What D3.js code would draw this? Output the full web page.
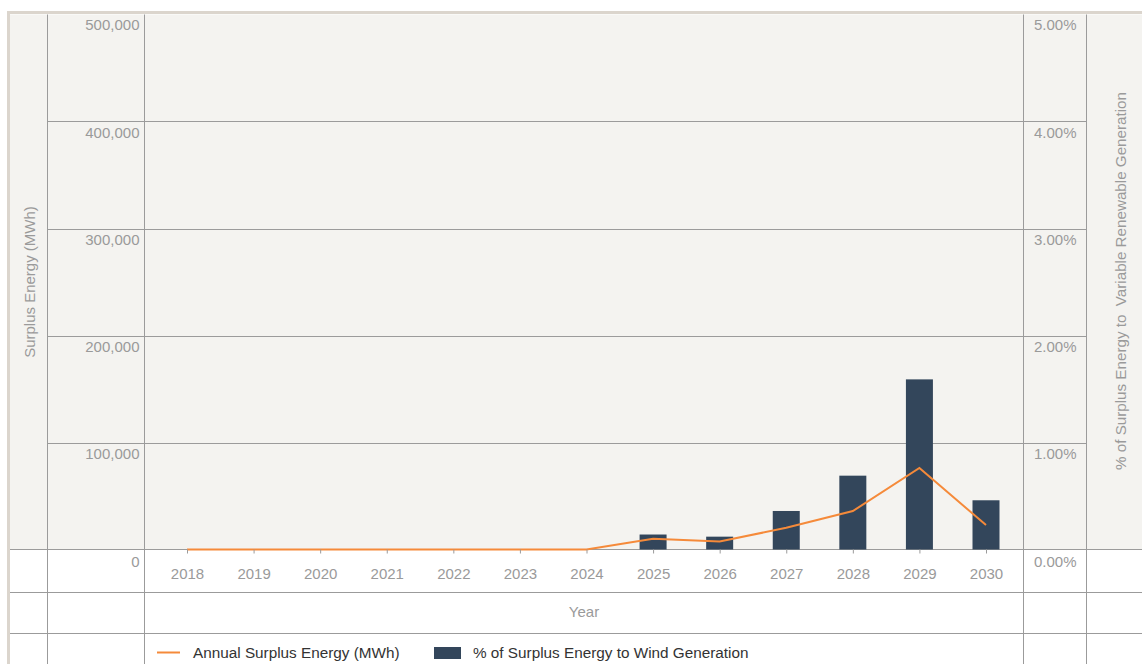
<!DOCTYPE html>
<html>
<head>
<meta charset="utf-8">
<script src="https://cdn.jsdelivr.net/npm/d3@7"></script>
<style>
	body { margin: 0; background: #fff; }
	text { font-family: "Liberation Sans", Arial, Helvetica, sans-serif; }
</style>
</head>
<body>
<div id="chart"></div>
<script>
const years = ["2018", "2019", "2020", "2021", "2022", "2023", "2024", "2025", "2026", "2027", "2028", "2029", "2030"];
const surplusMWh = [0, 0, 0, 0, 0, 0, 0, 10000, 7500, 20300, 35900, 76200, 22800];
const pctWind = [0, 0, 0, 0, 0, 0, 0, 0.14, 0.12, 0.36, 0.69, 1.59, 0.46];
const leftTicks = [0, 100000, 200000, 300000, 400000, 500000];
const rightTicks = [0, 1, 2, 3, 4, 5];
const leftTitle = "Surplus Energy (MWh)";
const rightTitle = "% of Surplus Energy to  Variable Renewable Generation";
const xTitle = "Year";
const legendLine = "Annual Surplus Energy (MWh)";
const legendBar = "% of Surplus Energy to Wind Generation";

const width = 1142, height = 664;
const plotL = 144.5, plotR = 1023.5, baseY = 549.5, topY = 14.5;
const colLines = [47.5, 144.5, 1023.5, 1086.5];
const gridCol = "#9b9b9b", labelCol = "#9a9a9a", orange = "#f58a3a", barCol = "#33465b";

const svg = d3.select("#chart").append("svg")
	.attr("width", width)
	.attr("height", height);

// backgrounds
svg.append("rect").attr("x", 0).attr("y", 0).attr("width", width).attr("height", height).attr("fill", "#fff");
svg.append("rect").attr("x", 10).attr("y", topY).attr("width", width - 10).attr("height", baseY - topY).attr("fill", "#f4f3f0");

const x = d3.scalePoint().domain(years).range([187, 986]);
const yL = d3.scaleLinear().domain([0, 500000]).range([baseY, topY]);
const yR = d3.scaleLinear().domain([0, 5]).range([baseY, topY]);

// gridlines
svg.append("g").selectAll("line")
	.data(leftTicks.filter(d => d > 0 && d < 500000))
	.join("line")
	.attr("x1", 47.5).attr("x2", 1086.5)
	.attr("y1", d => Math.round(yL(d)) + 0.5).attr("y2", d => Math.round(yL(d)) + 0.5)
	.attr("stroke", gridCol);

// table rows below
[baseY, 592.5, 633.5].forEach(y => {
	svg.append("line").attr("x1", 10).attr("x2", width).attr("y1", y).attr("y2", y).attr("stroke", gridCol);
});
colLines.forEach(cx => {
	svg.append("line").attr("x1", cx).attr("x2", cx).attr("y1", topY).attr("y2", height).attr("stroke", gridCol);
});

// bars
svg.append("g").selectAll("rect")
	.data(years.map((y, i) => ({ year: y, v: pctWind[i] })).filter(d => d.v > 0))
	.join("rect")
	.attr("x", d => x(d.year) - 13.5)
	.attr("width", 27)
	.attr("y", d => yR(d.v))
	.attr("height", d => baseY - yR(d.v))
	.attr("fill", barCol);

// line
const line = d3.line()
	.x((d, i) => x(years[i]))
	.y(d => yL(d));
svg.append("path")
	.datum(surplusMWh)
	.attr("d", line)
	.attr("fill", "none")
	.attr("stroke", orange)
	.attr("stroke-width", 2);

// x axis
const xAxis = svg.append("g")
	.attr("transform", `translate(0,${baseY})`)
	.call(d3.axisBottom(x).tickSize(4).tickPadding(15));
xAxis.select(".domain").remove();
xAxis.selectAll("line").attr("stroke", gridCol);
xAxis.selectAll("text").attr("fill", labelCol).style("font-size", "15px");

// left axis
const lAxis = svg.append("g")
	.attr("transform", `translate(${plotL},0)`)
	.call(d3.axisLeft(yL).tickValues(leftTicks).tickSize(0).tickPadding(5).tickFormat(d3.format(",")));
lAxis.select(".domain").remove();
lAxis.selectAll("text").attr("fill", labelCol).style("font-size", "15px").attr("dy", 0)
	.attr("y", d => d === 500000 ? 14.5 : d === 0 ? 17 : 15.5);

// right axis
const rAxis = svg.append("g")
	.attr("transform", `translate(${plotR},0)`)
	.call(d3.axisRight(yR).tickValues(rightTicks).tickSize(0).tickPadding(10.5).tickFormat(d => d3.format(".2f")(d) + "%"));
rAxis.select(".domain").remove();
rAxis.selectAll("text").attr("fill", labelCol).style("font-size", "15px").attr("dy", 0)
	.attr("y", d => d === 5 ? 14.5 : d === 0 ? 17 : 15.5);

// axis titles
svg.append("text")
	.attr("transform", `translate(35,${(topY + baseY) / 2}) rotate(-90)`)
	.attr("text-anchor", "middle")
	.attr("fill", labelCol)
	.style("font-size", "15px")
	.text(leftTitle);
svg.append("text")
	.attr("transform", `translate(1126,${(topY + baseY) / 2 - 1}) rotate(-90)`)
	.attr("text-anchor", "middle")
	.attr("fill", labelCol)
	.style("font-size", "15.2px")
	.style("white-space", "pre")
	.attr("xml:space", "preserve")
	.text(rightTitle);
svg.append("text")
	.attr("x", (plotL + plotR) / 2)
	.attr("y", 617)
	.attr("text-anchor", "middle")
	.attr("fill", labelCol)
	.style("font-size", "15px")
	.text(xTitle);

// legend
const leg = svg.append("g");
leg.append("line").attr("x1", 157).attr("x2", 180).attr("y1", 652.5).attr("y2", 652.5)
	.attr("stroke", orange).attr("stroke-width", 2);
leg.append("text").attr("x", 193).attr("y", 658).attr("fill", "#333").style("font-size", "15.3px").text(legendLine);
leg.append("rect").attr("x", 434).attr("y", 647).attr("width", 27).attr("height", 12).attr("fill", barCol);
leg.append("text").attr("x", 473).attr("y", 658).attr("fill", "#333").style("font-size", "15.3px").text(legendBar);

// beige frame
svg.append("rect").attr("x", 7).attr("y", 11).attr("width", width - 7).attr("height", 3).attr("fill", "#dbd5cd");
svg.append("rect").attr("x", 7).attr("y", 11).attr("width", 3).attr("height", height - 11).attr("fill", "#dbd5cd");
</script>
</body>
</html>
